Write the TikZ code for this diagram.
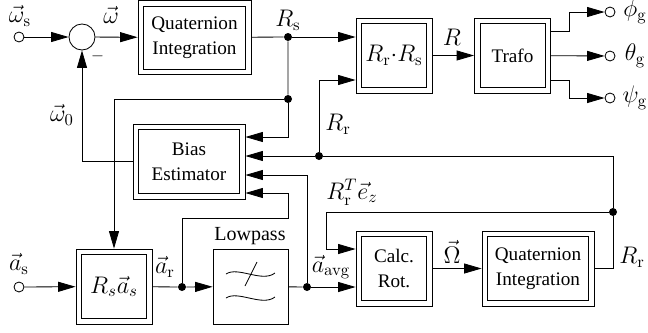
\documentclass[tikz,border=0pt]{standalone}
\usepackage{amsmath,amssymb}
\usepackage[no-math]{fontspec}
\setmainfont{Liberation Serif}
\usetikzlibrary{arrows.meta,positioning,calc}

\tikzset{
  wblock/.style={draw, inner sep=0pt, align=center, minimum width=67.2pt, minimum height=45pt,
    font=\fontsize{11.5}{15}\selectfont},
  nblock/.style={wblock, minimum width=45.6pt},
  lpblock/.style={draw, inner sep=0pt, minimum size=45pt},
  dot/.style={circle, fill, inner sep=0pt, minimum size=4.8pt},
  port/.style={circle, draw, fill=white, inner sep=0pt, minimum size=6pt},
  sumnode/.style={circle, draw, inner sep=0pt, minimum size=15.6pt},
  sig/.style={-{Triangle[length=10.5pt,width=6pt]}},
  lbl/.style={font=\Large, inner sep=1pt},
}

\begin{document}
\begin{tikzpicture}[x=0.6pt, y=-0.6pt, line width=0.5pt]
\useasboundingbox (0,0) rectangle (648,332);

% Blocks
\node[sumnode] (sum) at (82,37) {};
\node[wblock, minimum width=67.8pt, minimum height=44.4pt] (qiA) at (194.5,37.5) {Quaternion\\Integration};
\node[nblock, font=\Large] (mult) at (394,55.5) {$R_{\mathrm{r}}{\cdot}R_{\mathrm{s}}$};
\node[nblock] (trafo) at (512.5,55.5) {Trafo};
\node[wblock] (bias) at (189,161.5) {Bias\\Estimator};
\node[nblock, font=\Large] (rot) at (114,286.5) {$R_s\vec{a}_s$};
\node[lpblock] (lp) at (250.5,286.5) {};
\node[nblock] (calc) at (394,268.5) {Calc.\\Rot.};
\node[wblock] (qiB) at (538,268.5) {Quaternion\\Integration};

% inner frames of the double blocks
\foreach \b in {qiA,mult,trafo,bias,rot,calc,qiB}
  \draw ([shift={(3.6pt,3.6pt)}]\b.south west) rectangle ([shift={(-3.6pt,-3.6pt)}]\b.north east);

% Ports and junctions
\node[port] (inW) at (19,37) {};
\node[port] (inA) at (19,287) {};
\node[port] (outPhi) at (610,12) {};
\node[port] (outTheta) at (610,56) {};
\node[port] (outPsi) at (610,98) {};
\node[dot] (dRs) at (288,37) {};
\node[dot] (dRsB) at (288,99) {};
\node[dot] (dRr) at (319,156) {};
\node[dot] (dRz) at (613,212) {};
\node[dot] (dAr) at (182,287) {};
\node[dot] (dAv) at (307,287) {};

% Lowpass symbol
\draw (226,274) .. controls (238,266) and (262,283) .. (275,273);
\draw (226,298) .. controls (238,290) and (262,307) .. (275,297);
\draw (245,286) -- (257,262);

% Top path
\draw[sig] (inW) -- (sum);
\draw[sig] (sum) -- (qiA);
\draw (qiA) -- (dRs) -- (dRsB);
\draw[sig] (dRs) -- (mult.west |- dRs);
\draw[sig] (mult) -- (trafo);
\draw[sig] (trafo.east |- 0,31) -- ++(18,0) |- (outPhi);
\draw[sig] (trafo) -- (outTheta);
\draw[sig] (trafo.east |- 0,80) -- ++(18,0) |- (outPsi);

% Feedback and bias
\draw[sig] (dRsB) -| (rot.north);
\draw[sig] (dRsB) |- (bias.east |- 0,137);
\draw[sig] (dRr) -- (bias.east |- dRr);
\draw[sig] (dRr) |- (mult.west |- 0,80);
\draw (dRr) -| (dRz);
\draw[sig] (dRz) -- (326,212) |- (calc.west |- 0,249);
\draw (qiB) -| (dRz);
\draw[sig] (bias) -| (sum);

% Bottom path
\draw[sig] (inA) -- (rot);
\draw (rot) -- (dAr);
\draw[sig] (dAr) -- (lp);
\draw (lp) -- (dAv);
\draw[sig] (dAv) -- (calc.west |- dAv);
\draw[sig] (calc) -- (qiB);
\draw[sig] (dAv) |- (bias.east |- 0,175);
\draw[sig] (dAr) |- (288,218) |- (bias.east |- 0,193);

% Labels
\node[lbl] (lWs) at (20,16) {$\vec{\omega}_{\mathrm{s}}$};
\node[lbl] (lW) at (111,15) {$\vec{\omega}$};
\node (lMinus) at (97.5,56) {$-$};
\node[lbl] (lW0) at (62,115) {$\vec{\omega}_0$};
\node[lbl] (lRs) at (288,20) {$R_{\mathrm{s}}$};
\node[lbl] (lR) at (452,37) {$R$};
\node[lbl] (lPhi) at (635,12) {$\phi_{\mathrm{g}}$};
\node[lbl] (lTheta) at (635,56) {$\theta_{\mathrm{g}}$};
\node[lbl] (lPsi) at (635,98) {$\psi_{\mathrm{g}}$};
\node[lbl] (lRr) at (338,124) {$R_{\mathrm{r}}$};
\node[lbl] (lRrT) at (352,192) {$R_{\mathrm{r}}^T\vec{e}_z$};
\node[lbl] (lRrB) at (632,257) {$R_{\mathrm{r}}$};
\node[lbl] (lOm) at (452,252) {$\vec{\Omega}$};
\node[lbl] (lAs) at (19,264) {$\vec{a}_{\mathrm{s}}$};
\node[lbl] (lAr) at (165,267) {$\vec{a}_{\mathrm{r}}$};
\node[lbl] (lAvg) at (331,267) {$\vec{a}_{\mathrm{avg}}$};
\node[font=\fontsize{12}{14}\selectfont] (lLp) at (250,236) {Lowpass};
\end{tikzpicture}
\end{document}
